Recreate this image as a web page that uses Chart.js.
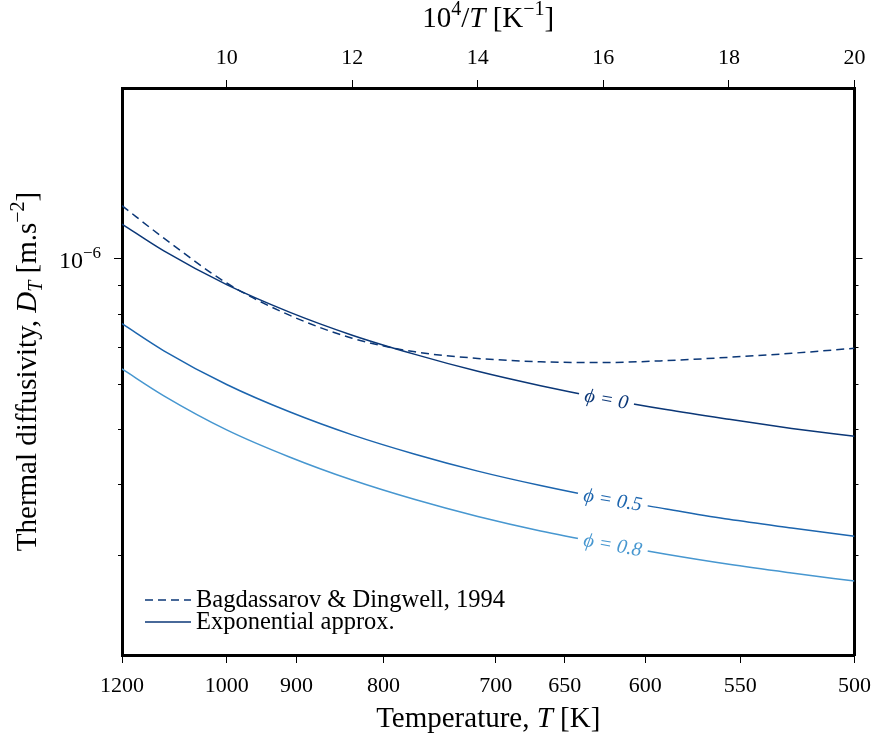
<!DOCTYPE html>
<html><head><meta charset="utf-8">
<script src="https://cdn.jsdelivr.net/npm/chart.js@4.4.0/dist/chart.umd.min.js"></script>
<style>html,body{margin:0;padding:0;background:#fff;}#wrap{width:881px;height:738px;}</style>
</head><body><div id="wrap"><canvas id="c" width="881" height="738"></canvas></div>
<script>
// ---- data (x = 10^4/T in K^-1, y = thermal diffusivity in m.s^-2) ----
const invT = [8.3333, 9, 10, 11, 12, 13, 14, 15, 16, 17, 18, 19, 20];
const phi0 = [1.151e-6, 1.032e-6, 0.900e-6, 0.805e-6, 0.733e-6, 0.678e-6, 0.633e-6, 0.597e-6, 0.567e-6, 0.542e-6, 0.521e-6, 0.502e-6, 0.486e-6];
const phi05 = [0.768e-6, 0.688e-6, 0.600e-6, 0.537e-6, 0.489e-6, 0.452e-6, 0.422e-6, 0.398e-6, 0.378e-6, 0.362e-6, 0.347e-6, 0.335e-6, 0.324e-6];
const phi08 = [0.639e-6, 0.573e-6, 0.499e-6, 0.447e-6, 0.407e-6, 0.376e-6, 0.351e-6, 0.331e-6, 0.315e-6, 0.301e-6, 0.289e-6, 0.279e-6, 0.270e-6];
const bagdassarov = [1.240e-6, 1.087e-6, 0.906e-6, 0.795e-6, 0.724e-6, 0.685e-6, 0.667e-6, 0.658e-6, 0.656e-6, 0.661e-6, 0.670e-6, 0.681e-6, 0.695e-6];
const tempTicks = [1200, 1000, 900, 800, 700, 650, 600, 550, 500];
const invTTicks = [10, 12, 14, 16, 18, 20];
const yMajorTicks = [1e-6];
const yMinorTicks = [3e-7, 4e-7, 5e-7, 6e-7, 7e-7, 8e-7, 9e-7];
const phiLabels = ['ϕ = 0', 'ϕ = 0.5', 'ϕ = 0.8'];
const legendLabels = ['Bagdassarov & Dingwell, 1994', 'Exponential approx.'];

const FONT = '"Liberation Serif", "Times New Roman", serif';
const C0 = '#0b3777', C05 = '#1c65ae', C08 = '#4797d0';

const pts = arr => invT.map((x, i) => ({x, y: arr[i]}));

function fontFor(p, size) {
  const s = (p.sup || p.sub) ? Math.round(size * 0.7) : size;
  return (p.italic ? 'italic ' : '') + s + 'px ' + FONT;
}
function richWidth(ctx, parts, size) {
  let w = 0;
  for (const p of parts) { ctx.font = fontFor(p, size); w += ctx.measureText(p.t).width; }
  return w;
}
function drawRich(ctx, parts, x, y, size, align) {
  const w = richWidth(ctx, parts, size);
  let cx = align === 'right' ? x - w : (align === 'left' ? x : x - w / 2);
  ctx.textAlign = 'left'; ctx.textBaseline = 'alphabetic';
  for (const p of parts) {
    ctx.font = fontFor(p, size);
    const dy = p.sup ? -0.42 * size : (p.sub ? 0.22 * size : 0);
    ctx.fillText(p.t, cx, y + dy);
    cx += ctx.measureText(p.t).width;
  }
}

const annot = {
  id: 'annot',
  afterDraw(chart) {
    const ctx = chart.ctx, ca = chart.chartArea;
    const y = chart.scales.y;
    ctx.save();
    ctx.fillStyle = '#000'; ctx.strokeStyle = '#000'; ctx.lineWidth = 1;
    // minor ticks on log axis (both sides)
    for (const v of yMinorTicks) {
      const py = Math.round(y.getPixelForValue(v)) + 0.5;
      ctx.beginPath();
      ctx.moveTo(ca.left - 4, py); ctx.lineTo(ca.left, py);
      ctx.moveTo(ca.right, py); ctx.lineTo(ca.right + 4, py);
      ctx.stroke();
    }
    // major y tick label 10^-6
    for (const v of yMajorTicks) {
      const py = y.getPixelForValue(v);
      drawRich(ctx, [{t: '10'}, {t: '−6', sup: true}], ca.left - 21, py + 9, 24, 'right');
    }
    // axis titles
    drawRich(ctx, [{t: 'Temperature, '}, {t: 'T', italic: true}, {t: ' [K]'}], (ca.left + ca.right) / 2, 727, 29, 'center');
    drawRich(ctx, [{t: '10'}, {t: '4', sup: true}, {t: '/'}, {t: 'T', italic: true}, {t: ' [K'}, {t: '−1', sup: true}, {t: ']'}], (ca.left + ca.right) / 2, 27, 29, 'center');
    ctx.save();
    ctx.translate(36, (ca.top + ca.bottom) / 2);
    ctx.rotate(-Math.PI / 2);
    drawRich(ctx, [{t: 'Thermal diffusivity, '}, {t: 'D', italic: true}, {t: 'T', italic: true, sub: true}, {t: ' [m.s'}, {t: '−2', sup: true}, {t: ']'}], 0, 0, 29, 'center');
    ctx.restore();
    // legend
    const lx0 = ca.left + 23, lx1 = ca.left + 69, rows = [600, 622];
    ctx.lineWidth = 1.5; ctx.strokeStyle = C0;
    ctx.setLineDash([8, 5]);
    ctx.beginPath(); ctx.moveTo(lx0, rows[0]); ctx.lineTo(lx1, rows[0]); ctx.stroke();
    ctx.setLineDash([]);
    ctx.beginPath(); ctx.moveTo(lx0, rows[1]); ctx.lineTo(lx1, rows[1]); ctx.stroke();
    ctx.fillStyle = '#000';
    ctx.font = '24.5px ' + FONT; ctx.textAlign = 'left'; ctx.textBaseline = 'middle';
    ctx.fillText(legendLabels[0], lx1 + 5, rows[0] + 1);
    ctx.fillText(legendLabels[1], lx1 + 5, rows[1] + 1);
    ctx.restore();
  },
  afterDatasetsDraw(chart) {
    const ctx = chart.ctx, xs = chart.scales.x;
    const spots = [{ds: 1, x: 16.05}, {ds: 2, x: 16.15}, {ds: 3, x: 16.15}];
    const colors = [C0, C05, C08];
    ctx.save();
    spots.forEach((s, k) => {
      const meta = chart.getDatasetMeta(s.ds);
      const px = xs.getPixelForValue(s.x);
      let i = 0;
      while (i < meta.data.length - 2 && meta.data[i + 1].x < px) i++;
      const a = meta.data[i], b = meta.data[i + 1];
      const t = (px - a.x) / (b.x - a.x);
      const py = a.y + t * (b.y - a.y);
      const ang = Math.atan2(b.y - a.y, b.x - a.x);
      ctx.save();
      ctx.translate(px, py);
      ctx.rotate(ang);
      ctx.font = 'italic 20px ' + FONT;
      const w = ctx.measureText(phiLabels[k]).width;
      ctx.fillStyle = '#fff';
      ctx.fillRect(-w / 2 - 6, -6, w + 12, 12);
      ctx.fillStyle = colors[k];
      ctx.textAlign = 'center'; ctx.textBaseline = 'middle';
      ctx.fillText(phiLabels[k], 0, 1);
      ctx.restore();
    });
    ctx.restore();
  }
};

const gridOpts = {drawOnChartArea: false, drawTicks: true, tickLength: 8, tickWidth: 1, tickColor: '#000', color: '#000'};
const borderOpts = {display: true, color: '#000', width: 3};
const tickFont = {family: FONT, size: 22};

new Chart(document.getElementById('c'), {
  type: 'line',
  data: {
    datasets: [
      {label: legendLabels[0], data: pts(bagdassarov), borderColor: C0, borderWidth: 1.5, borderDash: [8, 5], pointRadius: 0, cubicInterpolationMode: 'monotone', fill: false},
      {label: legendLabels[1], data: pts(phi0), borderColor: C0, borderWidth: 1.5, pointRadius: 0, cubicInterpolationMode: 'monotone', fill: false},
      {label: phiLabels[1], data: pts(phi05), borderColor: C05, borderWidth: 1.5, pointRadius: 0, cubicInterpolationMode: 'monotone', fill: false},
      {label: phiLabels[2], data: pts(phi08), borderColor: C08, borderWidth: 1.5, pointRadius: 0, cubicInterpolationMode: 'monotone', fill: false}
    ]
  },
  options: {
    responsive: false, animation: false, devicePixelRatio: 1,
    layout: {padding: 0},
    plugins: {legend: {display: false}, tooltip: {enabled: false}, title: {display: false}},
    scales: {
      x: {
        type: 'linear', position: 'bottom', min: 1e4 / 1200, max: 20,
        afterBuildTicks: s => { s.ticks = tempTicks.map(T => ({value: 1e4 / T})); },
        afterFit: s => { s.height = 83; },
        ticks: {callback: (v, i) => String(tempTicks[i]), autoSkip: false, maxRotation: 0, minRotation: 0, font: tickFont, color: '#000', padding: 10},
        grid: gridOpts, border: borderOpts
      },
      x2: {
        type: 'linear', position: 'top', min: 1e4 / 1200, max: 20,
        afterBuildTicks: s => { s.ticks = invTTicks.map(v => ({value: v})); },
        afterFit: s => { s.height = 88; },
        ticks: {callback: v => String(v), autoSkip: false, maxRotation: 0, minRotation: 0, font: tickFont, color: '#000', padding: 9},
        grid: gridOpts, border: borderOpts
      },
      y: {
        type: 'logarithmic', position: 'left', min: 2e-7, max: 2e-6,
        afterBuildTicks: s => { s.ticks = yMajorTicks.map(v => ({value: v})); },
        afterFit: s => { s.width = 122; },
        ticks: {callback: () => '', font: tickFont},
        grid: gridOpts, border: borderOpts
      },
      y2: {
        type: 'logarithmic', position: 'right', min: 2e-7, max: 2e-6,
        afterBuildTicks: s => { s.ticks = yMajorTicks.map(v => ({value: v})); },
        afterFit: s => { s.width = 25; },
        ticks: {callback: () => '', font: tickFont},
        grid: gridOpts, border: borderOpts
      }
    }
  },
  plugins: [annot]
});
</script>
</body></html>
